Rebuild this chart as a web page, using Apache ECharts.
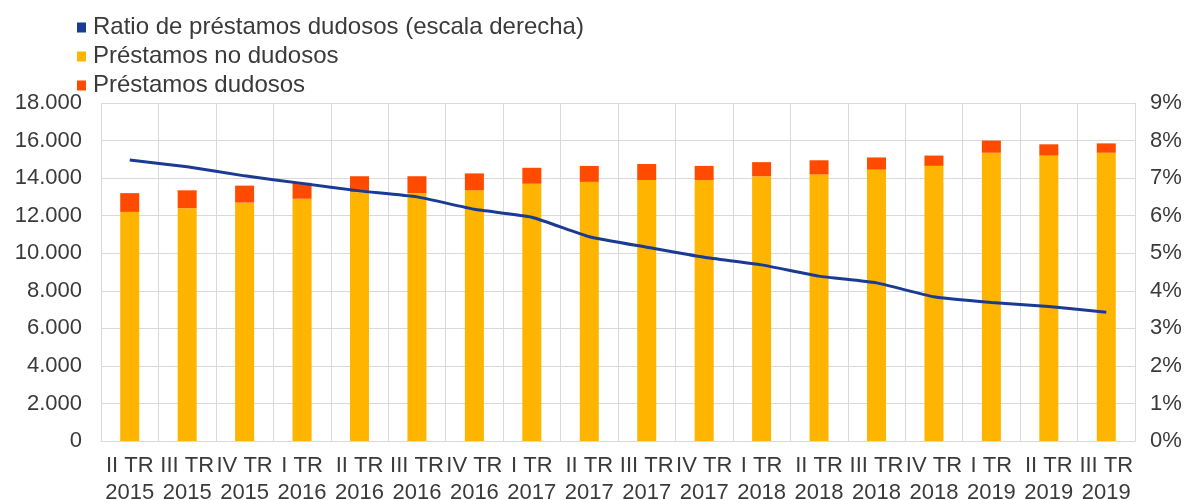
<!DOCTYPE html>
<html>
<head>
<meta charset="utf-8">
<script src="https://cdn.jsdelivr.net/npm/echarts@6/dist/echarts.min.js"></script>
<style>
  html, body { margin: 0; padding: 0; background: #fff; }
  #chart { width: 1188px; height: 500px; }
</style>
</head>
<body>
<div id="chart"></div>
<script>
// categorías (trimestres)
var quarters = ['II TR\n2015', 'III TR\n2015', 'IV TR\n2015', 'I TR\n2016', 'II TR\n2016', 'III TR\n2016',
    'IV TR\n2016', 'I TR\n2017', 'II TR\n2017', 'III TR\n2017', 'IV TR\n2017', 'I TR\n2018',
    'II TR\n2018', 'III TR\n2018', 'IV TR\n2018', 'I TR\n2019', 'II TR\n2019', 'III TR\n2019'];

// préstamos (escala izquierda)
var noDudosos = [12200, 12400, 12700, 12900, 13250, 13200, 13350, 13700, 13800,
    13900, 13900, 14100, 14200, 14450, 14650, 15350, 15200, 15350];
var dudosos = [1000, 950, 900, 850, 850, 900, 900, 850, 850,
    850, 750, 750, 750, 650, 550, 650, 600, 500];

// ratio (escala derecha, %)
var ratio = [7.48, 7.30, 7.06, 6.86, 6.66, 6.50, 6.17, 5.96, 5.44,
    5.16, 4.89, 4.69, 4.39, 4.21, 3.84, 3.69, 3.58, 3.43];

var leftTicks = { min: 0, max: 18000, interval: 2000 };
var rightTicks = { min: 0, max: 9, interval: 1 };

var textColor = '#3a3a3a';
var gridColor = '#d9d9d9';

function miles(v) {
    return String(v).replace(/\B(?=(\d{3})+(?!\d))/g, '.');
}

var option = {
    animation: false,
    textStyle: { fontFamily: 'Liberation Sans, Arial, sans-serif' },
    legend: {
        orient: 'vertical',
        left: 72,
        top: 10,
        itemWidth: 9,
        itemHeight: 10,
        itemGap: 4,
        textStyle: { fontSize: 24, color: textColor, lineHeight: 25, padding: [0, 0, 0, 2] },
        data: [
            { name: 'Ratio de préstamos dudosos (escala derecha)', icon: 'rect' },
            { name: 'Préstamos no dudosos', icon: 'rect' },
            { name: 'Préstamos dudosos', icon: 'rect' }
        ]
    },
    grid: { left: 101, right: 53, top: 103, bottom: 59, outerBoundsMode: 'none', containLabel: false },
    xAxis: {
        type: 'category',
        data: quarters,
        boundaryGap: true,
        axisLine: { show: true, lineStyle: { color: gridColor } },
        axisTick: { show: false },
        splitLine: { show: true, lineStyle: { color: gridColor, width: 1 } },
        axisLabel: { color: textColor, fontSize: 22, lineHeight: 27, margin: 11, interval: 0 }
    },
    yAxis: [
        {
            type: 'value',
            min: leftTicks.min,
            max: leftTicks.max,
            interval: leftTicks.interval,
            axisLine: { show: false },
            axisTick: { show: false },
            splitLine: { show: true, lineStyle: { color: gridColor, width: 1 } },
            axisLabel: { color: textColor, fontSize: 22, margin: 19, formatter: miles }
        },
        {
            type: 'value',
            position: 'right',
            min: rightTicks.min,
            max: rightTicks.max,
            interval: rightTicks.interval,
            axisLine: { show: true, lineStyle: { color: gridColor } },
            axisTick: { show: false },
            splitLine: { show: false },
            axisLabel: { color: textColor, fontSize: 22, margin: 15, formatter: '{value}%' }
        }
    ],
    series: [
        {
            name: 'Préstamos no dudosos',
            type: 'bar',
            stack: 'total',
            barWidth: 19,
            itemStyle: { color: '#FFB400' },
            data: noDudosos
        },
        {
            name: 'Préstamos dudosos',
            type: 'bar',
            stack: 'total',
            barWidth: 19,
            itemStyle: { color: '#FF4B00' },
            data: dudosos
        },
        {
            name: 'Ratio de préstamos dudosos (escala derecha)',
            type: 'line',
            yAxisIndex: 1,
            symbol: 'none',
            smooth: 0.15,
            lineStyle: { color: '#1a3a94', width: 3 },
            itemStyle: { color: '#1a3a94' },
            data: ratio
        }
    ]
};

var myChart = echarts.init(document.getElementById('chart'));
myChart.setOption(option);
</script>
</body>
</html>
